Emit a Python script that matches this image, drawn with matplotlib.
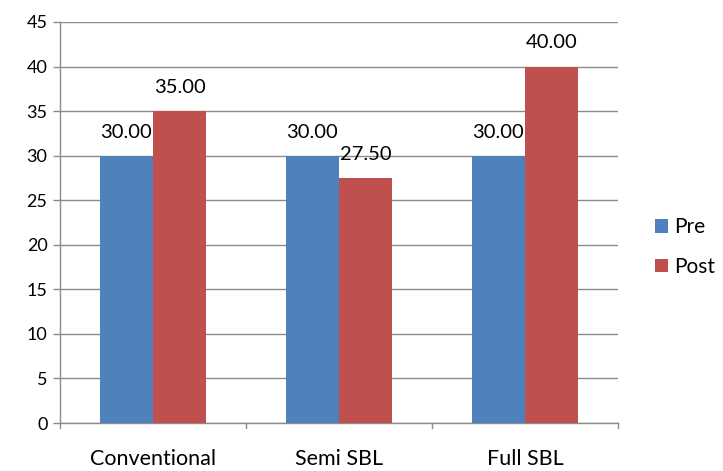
import matplotlib
matplotlib.use('Agg')
import matplotlib.pyplot as plt
import numpy as np

categories = ['Conventional', 'Semi SBL', 'Full SBL']
pre = [30.00, 30.00, 30.00]
post = [35.00, 27.50, 40.00]
series_names = ['Pre', 'Post']
yticks = list(range(0, 50, 5))

BLUE = '#4f81bd'
RED = '#c0504d'
GRID = '#8c8c8c'

plt.rcParams['font.family'] = ['Lato', 'DejaVu Sans']

fig = plt.figure(figsize=(7.23, 4.71), dpi=100)
ax = fig.add_axes([60 / 723, 48 / 471, 558 / 723, 401 / 471])

x = np.arange(len(categories))
w = 0.285
b1 = ax.bar(x - w / 2, pre, w, color=BLUE, label=series_names[0], zorder=3)
b2 = ax.bar(x + w / 2, post, w, color=RED, label=series_names[1], zorder=3)

# value labels above each bar
for bars, vals in ((b1, pre), (b2, post)):
    for bar, v in zip(bars, vals):
        ax.annotate('{:.2f}'.format(v), (bar.get_x() + bar.get_width() / 2, v),
                    xytext=(0, 17), textcoords='offset points',
                    ha='center', va='center', fontsize=14.5, color='black')

ax.set_xlim(-0.5, len(categories) - 0.5)
ax.set_ylim(0, 45)
ax.set_yticks(yticks)
ax.tick_params(axis='y', length=5, width=1, color=GRID, labelsize=13, pad=4)
ax.yaxis.grid(True, color=GRID, linewidth=1, zorder=0)

ax.set_xticks(x)
ax.set_xticklabels(categories, fontsize=15.5)
ax.tick_params(axis='x', length=0, pad=19)
for b in np.arange(-0.5, len(categories), 1.0):
    ax.plot([b, b], [0, -0.012], transform=ax.get_xaxis_transform(),
            color=GRID, linewidth=1, clip_on=False)

for s in ['top', 'right']:
    ax.spines[s].set_visible(False)
ax.spines['left'].set_color(GRID)
ax.spines['bottom'].set_color(GRID)
ax.spines['left'].set_linewidth(1)
ax.spines['bottom'].set_linewidth(1)

fig.legend(handles=[b1, b2], loc='center left', bbox_to_anchor=(636 / 723, 1 - 247 / 471),
           frameon=False, fontsize=15, handlelength=0.62, handleheight=0.62,
           labelspacing=0.92, handletextpad=0.3, borderpad=0.4)

fig.savefig('out.png', dpi=100)
